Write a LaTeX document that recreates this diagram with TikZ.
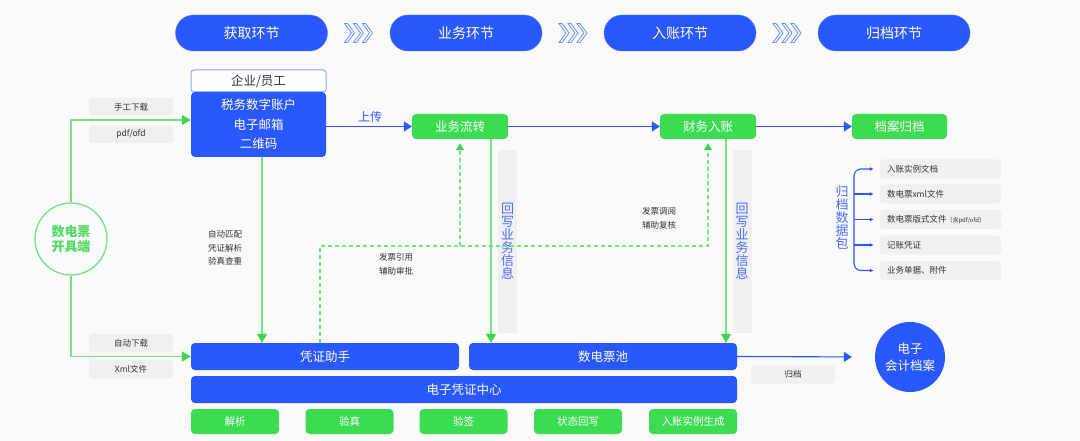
\documentclass[tikz,border=0pt]{standalone}
\usepackage{fontspec}
\setmainfont{Noto Sans CJK SC}
\usetikzlibrary{arrows.meta,calc}
\definecolor{bg}{HTML}{FAFAFB}
\definecolor{mblue}{HTML}{2A58FF}
\definecolor{mgreen}{HTML}{3CDC52}
\definecolor{gline}{HTML}{74E283}
\definecolor{garrow}{HTML}{3CD64F}
\definecolor{lgray}{HTML}{F0F0F0}
\definecolor{dtext}{HTML}{333333}
\definecolor{vblue}{HTML}{4A6DFF}
\definecolor{chev}{HTML}{6F8DFF}
\definecolor{lblueb}{HTML}{8CA4FF}
\definecolor{gtext}{HTML}{55D966}
\tikzset{
  pill/.style={fill=mblue, draw=mblue!80!white, rounded corners=18pt, minimum width=152pt, minimum height=36pt, text=white, inner sep=0pt, font=\fontsize{14}{16}\selectfont},
  bbox/.style={fill=mblue, rounded corners=4pt, text=white, inner sep=0pt, font=\fontsize{12.5}{14}\selectfont},
  gbox/.style={fill=mgreen, rounded corners=4pt, text=white, inner sep=0pt, minimum height=25pt, font=\fontsize{12.5}{14}\selectfont},
  sgbox/.style={gbox, minimum width=88pt, font=\fontsize{10.5}{12}\selectfont},
  lab/.style={fill=lgray, rounded corners=3pt, minimum width=84pt, minimum height=18pt, inner sep=0pt, text=dtext, font=\fontsize{8.5}{10}\selectfont},
  note/.style={text=dtext, align=center, font=\fontsize{8.5}{13.5}\selectfont},
  vtext/.style={text=vblue, align=center, inner sep=0pt, font=\fontsize{13}{13}\selectfont},
  item/.style={fill=lgray, rounded corners=3pt, minimum width=121pt, minimum height=19pt, inner xsep=7pt, inner ysep=0pt, text width=107pt, align=left, text=dtext, font=\fontsize{8.5}{10}\selectfont},
  gbar/.style={fill=lgray, minimum width=19pt, minimum height=183pt, inner sep=0pt},
  garr/.style={draw=gline, line width=1.3pt, -{Triangle[length=9pt,width=10pt,color=garrow]}},
  gdash/.style={draw=gline, line width=1.3pt, dash pattern=on 4pt off 3pt, -{Triangle[length=7pt,width=8pt,color=garrow]}, shorten >=4pt},
  barr/.style={draw=mblue, line width=1.1pt, -{Triangle[length=8pt,width=10pt]}},
  bthin/.style={draw=mblue, line width=1.1pt}
}
\begin{document}
\begin{tikzpicture}[x=1pt,y=-1pt]
\fill[bg] (0,0) rectangle (1080,441);
\useasboundingbox (0,0) rectangle (1080,441);

% top pills
\node[pill] (p1) at (251.5,33) {获取环节};
\node[pill] (p2) at (466,33) {业务环节};
\node[pill] (p3) at (680,33) {入账环节};
\node[pill] (p4) at (894,33) {归档环节};
\foreach \cx in {358.5,573,787}{
  \foreach \i in {0,1,2}{
    \draw[chev, line width=0.8pt, line join=miter]
      ($(\cx-14+9*\i,23.5)$) -- ++(3,0) -- ++(7,9.5) -- ++(-7,9.5) -- ++(-3,0) -- ++(7,-9.5) -- cycle;
  }
}

% account box
\node[draw=lblueb, line width=1pt, fill=white, rounded corners=3pt, minimum width=135pt, minimum height=22pt, inner sep=0pt, text=dtext, font=\fontsize{12.5}{14}\selectfont] (qy) at (258.5,81) {企业/员工};
\node[bbox, minimum width=135pt, minimum height=65pt, align=center, font=\fontsize{12.5}{19.5}\selectfont] (acct) at (258.5,124.5) {税务数字账户\\电子邮箱\\二维码};

% process boxes
\node[gbox, minimum width=96pt] (ywlz) at (460,126.5) {业务流转};
\node[gbox, minimum width=96pt] (cwrz) at (708,126.5) {财务入账};
\node[gbox, minimum width=95pt] (dagd) at (899.5,126.5) {档案归档};

% source circle
\node[circle, draw=gline, line width=1.3pt, fill=bg, minimum size=72pt, inner sep=0pt, text=gtext, align=center, font=\bfseries\fontsize{13}{15}\selectfont] (src) at (71,239) {数电票\\开具端};

% bottom blocks
\node[bbox, minimum width=268pt, minimum height=27pt] (pzzs) at (325,356.5) {凭证助手};
\node[bbox, minimum width=268pt, minimum height=27pt] (sdpc) at (603,356.5) {数电票池};
\node[bbox, minimum width=546pt, minimum height=27pt] (dzpz) at (464,389.5) {电子凭证中心};
\node[sgbox] (g1) at (235,421.5) {解析};
\node[sgbox] (g2) at (349.5,421.5) {验真};
\node[sgbox] (g3) at (463.5,421.5) {验签};
\node[sgbox] (g4) at (578,421.5) {状态回写};
\node[sgbox] (g5) at (693,421.5) {入账实例生成};

\node[circle, fill=mblue, minimum size=70pt, inner sep=0pt, text=white, align=center, font=\fontsize{12.5}{17}\selectfont] (arch) at (910,357) {电子\\会计档案};

% gray labels
\node[lab] (l1) at (131,107) {手工下载};
\node[lab] (l2) at (131,134) {pdf/ofd};
\node[lab] (l3) at (131,343) {自动下载};
\node[lab] (l4) at (131,369) {Xml文件};
\node[lab] (l5) at (793,374.5) {归档};

% gray bars
\node[gbar] (bar1) at (507.5,241.5) {};
\node[vtext] (vt1) at (bar1) {回\\写\\业\\务\\信\\息};
\node[gbar] (bar2) at (742,241.5) {};
\node[vtext] (vt2) at (bar2) {回\\写\\业\\务\\信\\息};

% notes
\node[note] (n1) at (225,248) {自动匹配\\凭证解析\\验真查重};
\node[note] (n2) at (396,264.5) {发票引用\\辅助审批};
\node[note] (n3) at (659,218.5) {发票调阅\\辅助复核};
\node[text=mblue, inner sep=0pt, font=\fontsize{12}{14}\selectfont] (up) at (370,117) {上传};

% archive data package
\node[item] (i1) at (940.5,169) {入账实例文档};
\node[item] (i2) at (940.5,194) {数电票xml文件};
\node[item] (i3) at (940.5,219.5) {数电票版式文件{\fontsize{6}{8}\selectfont（含pdf/ofd）}};
\node[item] (i4) at (940.5,245) {记账凭证};
\node[item] (i5) at (940.5,270.5) {业务单据、附件};
\node[vtext] (gdsj) at (842,217) {归\\档\\数\\据\\包};
\coordinate (bx) at (854,0);
\draw[bthin, rounded corners=7pt, {Latex[length=4pt,width=4pt]}-{Latex[length=4pt,width=4pt]}] ([xshift=-6pt]i1.west) -| (bx |- i5.west) -- ([xshift=-6pt]i5.west);
\foreach \k in {i2,i3,i4}{
  \draw[bthin, -{Latex[length=4pt,width=4pt]}] (bx |- \k.west) -- ([xshift=-6pt]\k.west);
}

% connectors
\draw[garr] (src.north) |- ([yshift=4.5pt]acct.west);
\draw[garr] (src.south) |- (pzzs.west);
\draw[barr] (acct.east |- ywlz.west) -- (ywlz.west);
\draw[barr] (ywlz.east) -- (cwrz.west);
\draw[barr] (cwrz.east) -- (dagd.west);
\draw[garr] ([xshift=3.5pt]acct.south) -- ([xshift=3.5pt]acct.south |- pzzs.north);
\draw[garr] ([xshift=31pt]ywlz.south) -- ([xshift=31pt]ywlz.south |- sdpc.north);
\draw[garr] ([xshift=18pt]cwrz.south) -- ([xshift=18pt]cwrz.south |- sdpc.north);
\coordinate (dl) at (0,246);
\draw[gdash] ([xshift=-5pt]pzzs.north) |- (cwrz.south |- dl) -- (cwrz.south);
\draw[gdash] (ywlz.south |- dl) -- (ywlz.south);
\draw[barr, shorten >=23pt] (sdpc.east) -- (arch.west);
\end{tikzpicture}
\end{document}
